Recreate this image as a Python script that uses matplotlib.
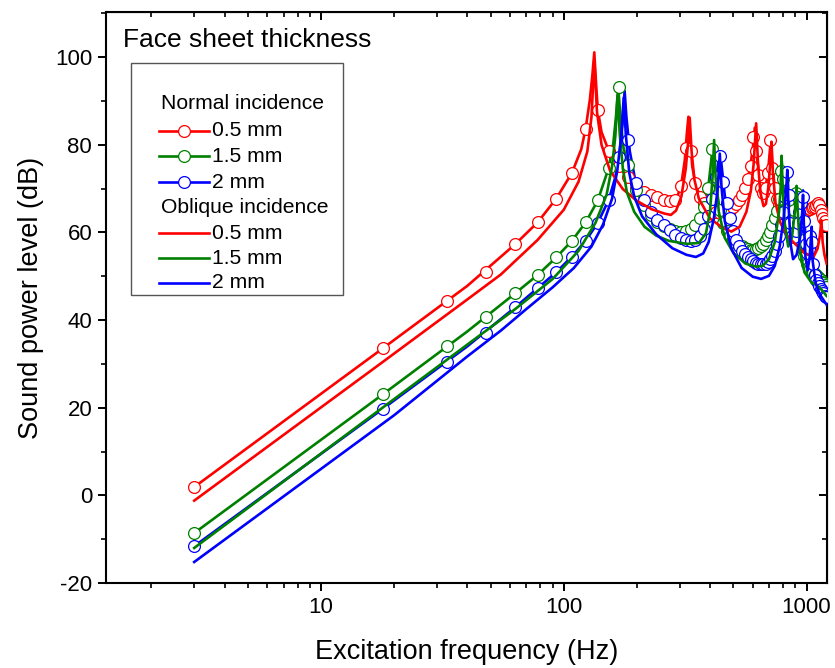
import matplotlib
matplotlib.use('Agg')
import matplotlib.pyplot as plt
from matplotlib.lines import Line2D
from matplotlib.patches import Rectangle

plt.rcParams['font.family'] = ['Liberation Sans', 'DejaVu Sans']
plt.rcParams['axes.unicode_minus'] = False

# marker frequencies (normal incidence, every 15 Hz)
f_mark = [3, 18, 33, 48, 63, 78, 93, 108, 123, 138, 153, 168, 183, 198, 213, 228, 243, 258, 273, 288,
          303, 318, 333, 348, 363, 378, 393, 408, 423, 438, 453, 468, 483, 498, 513, 528, 543, 558, 573, 588,
          603, 618, 633, 648, 663, 678, 693, 708, 723, 738, 753, 768, 783, 798, 813, 828, 843, 858, 873, 888,
          903, 918, 933, 948, 963, 978, 993, 1008, 1023, 1038, 1053, 1068, 1083, 1098, 1113, 1128, 1143, 1158,
          1173, 1188, 1203]

red_mark = [1.9, 33.6, 44.3, 50.9, 57.3, 62.3, 67.7, 73.6, 83.7, 88.0, 78.7, 75.1, 72.6, 70.1, 69.2, 68.6, 68.1, 67.5, 67.1, 67.5,
            70.6, 79.2, 78.5, 71.2, 68.2, 66.7, 65.7, 65.2, 64.7, 64.5, 64.5, 64.7, 65.1, 65.7, 66.5, 67.5, 68.6, 70.1, 72.1, 75.1,
            81.8, 78.5, 73.1, 70.1, 69.1, 70.1, 73.6, 81.1, 74.6, 70.1, 67.7, 66.2, 65.2, 64.5, 64.0, 63.7, 63.5, 63.3, 63.2, 63.2,
            63.3, 63.5, 63.7, 64.0, 64.3, 64.7, 65.0, 65.2, 65.3, 65.3, 65.5, 65.7, 65.9, 66.2, 66.7, 66.3, 65.2, 64.2,
            63.2, 62.5, 61.7]

green_mark = [-8.6, 23.1, 34.0, 40.8, 46.1, 50.3, 54.3, 58.1, 62.3, 67.3, 74.7, 93.1, 75.5, 69.6, 66.2, 64.0, 62.4, 61.5, 60.8, 60.3,
              60.1, 60.3, 60.8, 61.8, 63.3, 65.7, 70.1, 79.0, 72.1, 65.2, 62.2, 60.3, 59.3, 58.4, 57.7, 57.2, 56.8, 56.5, 56.2, 56.1,
              56.1, 56.2, 56.4, 56.8, 57.4, 58.2, 59.1, 60.1, 61.8, 63.2, 65.0, 67.7, 74.1, 72.1, 65.2, 62.2, 60.8, 61.3, 62.7, 65.2,
              69.1, 68.2, 61.8, 58.3, 56.3, 54.7, 53.7, 52.9, 52.2, 51.7, 51.3, 50.9, 50.5, 50.2, 49.9, 49.5, 49.1, 48.7,
              48.4, 48.0, 47.6]

blue_mark = [-11.6, 19.8, 30.4, 37.0, 42.9, 47.3, 50.9, 54.5, 58.1, 62.2, 67.4, 77.3, 81.1, 71.2, 67.4, 64.7, 62.8, 61.7, 60.6, 59.4,
             58.7, 58.2, 58.0, 58.3, 59.1, 60.8, 63.7, 67.7, 72.6, 77.4, 71.6, 66.7, 63.2, 60.3, 58.3, 56.8, 55.8, 55.1, 54.4, 53.9,
             53.4, 53.0, 52.8, 52.7, 52.7, 52.9, 53.3, 53.9, 54.7, 55.8, 57.3, 59.3, 61.8, 64.7, 68.2, 73.9, 68.6, 62.2, 59.3, 59.0,
             60.3, 62.2, 64.7, 66.7, 68.2, 62.7, 57.3, 55.3, 56.3, 59.3, 57.8, 52.9, 50.4, 49.2, 48.5, 47.8, 47.2, 46.6,
             46.1, 45.6, 45.2]

# normal incidence curves
f_red_n = [3, 18, 40, 63, 78, 93, 108, 118, 123, 128, 131, 133.5, 136, 138, 143, 153, 168, 183, 200, 230, 260, 280, 295, 305,
           315, 321, 326, 331, 338, 350, 370, 400, 440, 480, 520, 560, 585, 600, 612, 622, 640, 660, 680, 698, 712, 724,
           745, 775, 810, 870, 930, 990, 1050, 1100, 1120, 1135, 1160, 1210]
red_n = [1.9, 33.6, 47.8, 57.3, 62.3, 67.7, 73.6, 79.0, 83.7, 90.3, 95.7, 101.1, 93.3, 88.0, 82.9, 78.7, 75.1, 72.6, 69.9, 68.5,
         67.4, 67.1, 68.5, 71.1, 76.5, 82.4, 86.4, 81.5, 75.1, 70.6, 67.5, 65.5, 64.5, 64.9, 66.7, 70.1, 74.6, 79.0, 83.9, 78.5,
         71.6, 69.1, 70.6, 75.5, 81.0, 74.6, 69.1, 65.7, 64.2, 63.3, 63.5, 64.9, 65.5, 66.2, 67.2, 66.3, 64.2, 61.7]

f_green_n = [3, 18, 40, 63, 78, 93, 108, 123, 138, 153, 160, 164, 167.5, 171, 176, 183, 198, 213, 240, 270, 300, 330, 360,
             380, 395, 405, 411, 417, 427, 440, 470, 520, 580, 640, 690, 730, 760, 778, 789, 797, 810, 840, 870, 895, 910,
             922, 945, 985, 1040, 1100, 1150, 1210]
green_n = [-8.6, 23.1, 37.4, 46.1, 50.3, 54.3, 58.1, 62.3, 67.3, 74.7, 80.5, 86.4, 93.3, 86.4, 79.5, 75.5, 69.6, 66.2, 62.6,
           60.9, 60.1, 60.7, 62.9, 66.2, 71.1, 76.5, 80.0, 76.0, 69.6, 64.7, 60.1, 57.4, 56.1, 56.4, 59.1, 62.4, 66.2, 71.1,
           77.0, 72.1, 65.7, 60.8, 62.7, 67.2, 70.6, 65.7, 58.8, 53.9, 51.9, 50.4, 49.0, 47.5]

f_blue_n = [3, 18, 40, 63, 78, 93, 108, 123, 138, 153, 163, 170, 175, 178, 181, 187, 198, 213, 228, 258, 290, 320, 345,
            365, 385, 405, 420, 432, 440, 448, 460, 480, 510, 560, 620, 670, 720, 760, 790, 812, 826, 833, 840, 855, 875,
            900, 930, 955, 967, 978, 995, 1020, 1040, 1050, 1062, 1090, 1130, 1170, 1210]
blue_n = [-11.6, 19.8, 34.0, 42.9, 47.3, 50.9, 54.5, 58.1, 62.2, 67.4, 72.6, 78.5, 85.4, 92.3, 86.4, 78.5, 71.2, 67.4, 64.7,
          61.7, 59.4, 58.2, 58.0, 59.1, 61.8, 66.7, 71.6, 75.5, 78.5, 74.6, 68.6, 63.2, 58.8, 55.1, 53.0, 52.7, 54.4, 57.8,
          62.7, 67.7, 72.1, 74.6, 69.6, 61.8, 58.8, 59.8, 63.2, 66.7, 69.6, 63.7, 56.8, 54.9, 57.8, 61.3, 54.9, 50.0, 48.0,
          46.5, 45.0]

# oblique incidence curves
f_red_o = [3, 18, 40, 55, 78, 100, 115, 125, 130, 133.5, 137, 143, 155, 175, 200, 230, 260, 276, 290, 305, 318, 325, 330,
           336, 345, 360, 400, 450, 490, 530, 565, 590, 605, 620, 630, 645, 665, 680, 695, 707, 717, 727, 745, 780, 830,
           900, 980, 1040, 1070, 1110, 1135, 1151, 1165, 1185, 1210]
red_o = [-1.2, 30.5, 44.7, 50.4, 58.3, 65.2, 71.6, 78.5, 86.4, 99.2, 87.4, 80.0, 74.1, 69.9, 67.2, 65.3, 64.3, 64.0, 65.0,
         68.2, 74.6, 80.5, 86.2, 78.5, 72.1, 67.7, 63.2, 61.1, 60.2, 61.3, 64.7, 69.6, 75.5, 84.9, 76.5, 69.1, 66.0, 66.5,
         70.1, 75.1, 80.7, 73.6, 66.7, 62.2, 59.3, 57.3, 55.3, 54.7, 54.5, 56.3, 59.3, 62.8, 57.8, 54.9, 52.9]

f_green_o = [3, 18, 40, 63, 90, 115, 135, 150, 158, 163, 166.5, 170, 175, 182, 195, 215, 240, 270, 320, 360, 385, 400, 410,
             416, 422, 435, 460, 500, 560, 620, 660, 700, 740, 770, 782, 789, 796, 810, 840, 870, 895, 910, 920, 940, 980,
             1050, 1100, 1150, 1210]
green_o = [-12.0, 20.1, 34.4, 42.5, 49.4, 55.8, 62.2, 68.6, 75.1, 82.0, 91.3, 82.4, 74.6, 69.1, 64.7, 61.3, 59.3, 58.1, 57.4,
           57.6, 59.8, 64.7, 72.6, 81.1, 72.6, 64.7, 58.8, 55.3, 52.9, 52.2, 52.4, 53.9, 57.8, 64.7, 70.1, 77.5, 71.6, 62.7,
           56.8, 58.8, 64.7, 70.6, 64.7, 55.8, 50.9, 48.5, 48.0, 47.0, 45.5]

f_blue_o = [3, 20, 40, 55, 70, 90, 110, 130, 145, 158, 166, 172, 176.5, 180, 186, 195, 210, 240, 280, 320, 350, 375, 395,
            415, 430, 439, 446, 460, 490, 540, 600, 650, 700, 740, 775, 805, 825, 833, 841, 860, 880, 910, 940, 960, 967,
            975, 990, 1010, 1030, 1047, 1060, 1090, 1130, 1170, 1210]
blue_o = [-15.2, 18.3, 31.7, 37.6, 42.5, 47.5, 51.9, 56.8, 61.8, 67.7, 74.1, 81.5, 90.8, 82.4, 73.6, 68.2, 63.7, 59.6, 56.4,
          54.9, 54.4, 55.2, 57.8, 63.2, 69.6, 78.0, 70.6, 62.7, 56.3, 51.9, 49.9, 49.4, 50.1, 52.4, 56.8, 63.2, 70.1, 74.3,
          67.2, 57.3, 53.9, 54.9, 58.8, 64.7, 68.6, 61.8, 54.4, 51.4, 54.4, 60.3, 53.4, 48.5, 46.0, 44.7, 43.5]

RED, GREEN, BLUE = '#ff0000', '#008000', '#0000ff'
LW = 1.9

fig = plt.figure(figsize=(8.35, 6.68), dpi=100)
ax = fig.add_axes([0.127, 0.1272, 0.863, 0.8548])

# normal incidence: line + open circles
for fl, yl, ym, c in [(f_red_n, red_n, red_mark, RED),
                      (f_green_n, green_n, green_mark, GREEN),
                      (f_blue_n, blue_n, blue_mark, BLUE)]:
    ax.plot(fl, yl, color=c, lw=LW, zorder=2)
    ax.plot(f_mark, ym, ls='none', marker='o', ms=8.5, mfc='white', mec=c, mew=0.9, zorder=3)

# oblique incidence: lines only
for fl, yl, c in [(f_red_o, red_o, RED), (f_green_o, green_o, GREEN), (f_blue_o, blue_o, BLUE)]:
    ax.plot(fl, yl, color=c, lw=LW, zorder=4)

ax.set_xscale('log')
ax.set_xlim(1.3, 1210)
ax.set_ylim(-20, 110.3)
ax.set_xticks([10, 100, 1000])
ax.set_xticklabels(['10', '100', '1000'])
ax.set_yticks(range(-20, 101, 20))
ax.set_yticks(range(-20, 111, 10), minor=True)
ax.tick_params(which='major', direction='out', length=6, width=1.4, labelsize=16, pad=4)
ax.tick_params(which='minor', direction='out', length=3.5, width=1.2)
ax.tick_params(axis='x', which='minor', labelbottom=False)
for s in ax.spines.values():
    s.set_linewidth(1.5)

# mirrored inward ticks on top and right
top = ax.secondary_xaxis('top')
top.tick_params(which='major', direction='in', length=6, width=1.4, labeltop=False)
top.tick_params(which='minor', direction='in', length=3.5, width=1.2, labeltop=False)
top.set_xticks([10, 100, 1000])
right = ax.secondary_yaxis('right')
right.set_yticks(range(-20, 101, 20))
right.set_yticks(range(-20, 111, 10), minor=True)
right.tick_params(which='major', direction='in', length=6, width=1.4, labelright=False)
right.tick_params(which='minor', direction='in', length=3.5, width=1.2, labelright=False)

ax.set_xlabel('Excitation frequency (Hz)', fontsize=19.5, labelpad=15)
ax.set_ylabel('Sound power level (dB)', fontsize=19.5, labelpad=8)

# legend block drawn in axes coords
ax.text(0.024, 0.939, 'Face sheet thickness', transform=ax.transAxes, fontsize=19, va='baseline', ha='left')
ax.add_patch(Rectangle((0.034, 0.505), 0.295, 0.406, transform=ax.transAxes, fill=False,
                       ec='#555555', lw=1.0, zorder=5))
rows = [0.8396, 0.7918, 0.747, 0.702, 0.6585, 0.6124, 0.5688, 0.5258]
entries = [('Normal incidence', None, False), ('0.5 mm', RED, True), ('1.5 mm', GREEN, True), ('2 mm', BLUE, True),
           ('Oblique incidence', None, False), ('0.5 mm', RED, False), ('1.5 mm', GREEN, False), ('2 mm', BLUE, False)]
for yy, (lab, c, mk) in zip(rows, entries):
    if c is None:
        ax.text(0.076, yy, lab, transform=ax.transAxes, fontsize=15.2, va='center', ha='left')
        continue
    ax.add_line(Line2D([0.074, 0.143], [yy, yy], transform=ax.transAxes, color=c, lw=LW, zorder=6))
    if mk:
        ax.add_line(Line2D([0.1085], [yy], transform=ax.transAxes, ls='none', marker='o', ms=8.5,
                           mfc='white', mec=c, mew=0.9, zorder=7))
    ax.text(0.147, yy, lab, transform=ax.transAxes, fontsize=15.2, va='center', ha='left')

fig.savefig('out.png', dpi=100)
